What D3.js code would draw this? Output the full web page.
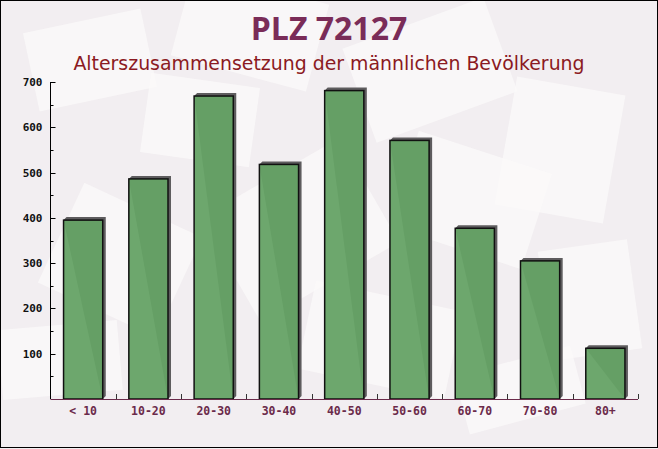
<!DOCTYPE html>
<html><head><meta charset="utf-8">
<script src="https://cdn.jsdelivr.net/npm/d3@7"></script>
<style>body{margin:0;background:#fff}svg{display:block}</style>
</head><body>
<svg id="c" width="658" height="449"></svg>
<script>
const categories = ["< 10","10-20","20-30","30-40","40-50","50-60","60-70","70-80","80+"];
const values = [395, 486, 669, 518, 681, 571, 377, 305, 112];
const yTicks = [100,200,300,400,500,600,700];
const title = "PLZ 72127";
const subtitle = "Alterszusammensetzung der männlichen Bevölkerung";

const W = 658, H = 449;
const svg = d3.select("#c");
const m = {l:50.5, r:638, t:82, b:399};

// background
svg.append("rect").attr("width",W).attr("height",H).attr("fill","#f2eef1");
const deco = [
  [90,60,120,80,-12],[250,30,140,90,15],[430,70,150,100,-20],[560,150,110,130,10],
  [120,260,130,110,25],[300,230,160,120,-30],[470,200,140,100,18],[590,300,90,110,-8],
  [60,360,120,70,-5],[380,340,150,90,12],[200,120,110,80,8],[520,390,120,60,-15]
];
const dg = svg.append("g");
deco.forEach(([x,y,w,h,a])=>{
  dg.append("rect").attr("x",x-w/2).attr("y",y-h/2).attr("width",w).attr("height",h)
    .attr("fill","#fbf9f9").attr("opacity",0.75)
    .attr("transform",`rotate(${a},${x},${y})`);
});

const x = d3.scaleBand().domain(categories).range([m.l, m.r]).paddingInner(0.4).paddingOuter(0.2);
const y = d3.scaleLinear().domain([0,700]).range([m.b, m.t]);

// bars with 3D shadow
const bg = svg.append("g");
categories.forEach((c,i)=>{
  const x0 = x(c), x1 = x0 + x.bandwidth(), y0 = y(values[i]), yb = y(0);
  bg.append("path")
    .attr("d",`M${x0},${y0} L${x0+3},${y0-3} L${x1+3},${y0-3} L${x1+3},${yb-3} L${x1},${yb} Z`)
    .attr("fill","#5e5c5e");
  bg.append("rect").attr("x",x0).attr("y",y0).attr("width",x.bandwidth()).attr("height",yb-y0)
    .attr("fill","#65a265").attr("fill-opacity",0.95)
    .attr("stroke","#111").attr("stroke-width",1.5);
});

// y axis
const ya = svg.append("g");
ya.append("line").attr("x1",m.l).attr("x2",m.l).attr("y1",m.t).attr("y2",m.b).attr("stroke","#000");
d3.range(50,701,50).forEach(v=>{
  const major = v%100===0;
  ya.append("line").attr("x1",m.l).attr("x2",m.l+(major?5:3)).attr("y1",Math.round(y(v))+0.5).attr("y2",Math.round(y(v))+0.5).attr("stroke","#000");
});
ya.selectAll("text").data(yTicks).join("text")
  .attr("x",m.l-8).attr("y",d=>y(d)+4).attr("text-anchor","end")
  .attr("font-family","DejaVu Sans Mono").attr("font-weight","bold").attr("font-size",11)
  .attr("fill","#111").text(d=>d);

// x axis
const xa = svg.append("g");
xa.append("line").attr("x1",m.l).attr("x2",m.r).attr("y1",m.b+0.5).attr("y2",m.b+0.5).attr("stroke","#6b2a4a");
categories.forEach((c,i)=>{
  const bx = Math.round(m.l + x.step()*(i+1)) + 0.5;
  xa.append("line").attr("x1",bx).attr("x2",bx).attr("y1",m.b).attr("y2",m.b-5).attr("stroke","#333");
});
xa.selectAll("text").data(categories).join("text")
  .attr("x",d=>x(d)+x.bandwidth()/2).attr("y",m.b+16).attr("text-anchor","middle")
  .attr("font-family","DejaVu Sans Mono").attr("font-weight","bold").attr("font-size",11.5)
  .attr("fill","#6b2a4a").text(d=>d);

// titles
svg.append("text").attr("x",329).attr("y",40).attr("text-anchor","middle")
  .attr("font-family","Open Sans, DejaVu Sans").attr("font-weight","bold").attr("font-size",32)
  .attr("fill","#7a2c58").text(title);
svg.append("text").attr("x",329).attr("y",70).attr("text-anchor","middle")
  .attr("font-family","DejaVu Sans").attr("font-size",18.9)
  .attr("fill","#8b1a22").text(subtitle);

// border
svg.append("rect").attr("x",0.5).attr("y",0.5).attr("width",657).attr("height",447)
  .attr("fill","none").attr("stroke","#000");
</script>
</body></html>
